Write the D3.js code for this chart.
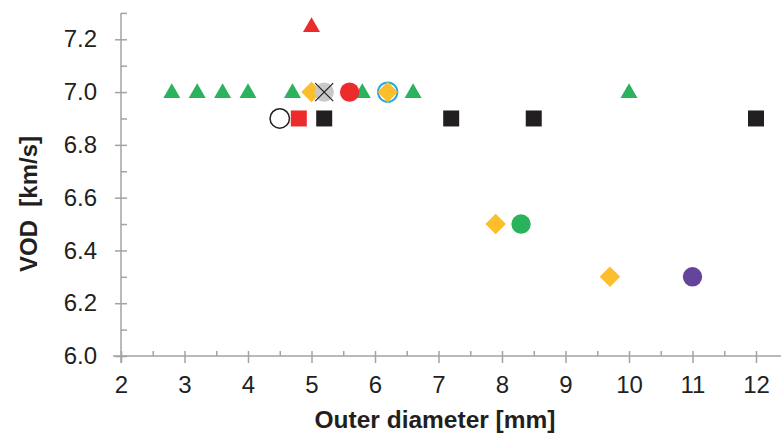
<html>
<head>
<script src="https://d3js.org/d3.v7.min.js"></script>
<style>
  body { margin: 0; background: #fff; font-family: "Liberation Sans", Arial, Helvetica, sans-serif; }
  .axis text { font-size: 24px; fill: #231f20; font-family: "Liberation Sans", Arial, sans-serif; }
  .axis line, .axis path { stroke: #a3a3a3; stroke-width: 1.5px; }
  .title { font-weight: bold; fill: #231f20; }
</style>
</head>
<body>
<svg id="chart" width="781" height="436"></svg>
<script>
// tick labels
const xTicks = [2, 3, 4, 5, 6, 7, 8, 9, 10, 11, 12];
const xMinor = [2.5, 3.5, 4.5, 5.5, 6.5, 7.5, 8.5, 9.5, 10.5, 11.5];
const yTicks = [6.0, 6.2, 6.4, 6.6, 6.8, 7.0, 7.2];
const yMinor = [6.1, 6.3, 6.5, 6.7, 6.9, 7.1, 7.3];

// series: [x, y]
const greenTriangles = [[2.8, 7.0], [3.2, 7.0], [3.6, 7.0], [4.0, 7.0], [4.7, 7.0], [5.8, 7.0], [6.6, 7.0], [10.0, 7.0]];
const redTriangles = [[5.0, 7.25]];
const orangeDiamonds = [[5.0, 7.0], [7.9, 6.5], [9.7, 6.3]];
const greyCrossCircles = [[5.2, 7.0]];
const redCircles = [[5.6, 7.0]];
const blueRingDiamonds = [[6.2, 7.0]];
const openCircles = [[4.5, 6.9]];
const redSquares = [[4.8, 6.9]];
const blackSquares = [[5.2, 6.9], [7.2, 6.9], [8.5, 6.9], [12.0, 6.9]];
const greenCircles = [[8.3, 6.5]];
const purpleCircles = [[11.0, 6.3]];

const svg = d3.select("#chart");
const x = d3.scaleLinear().domain([2, 12]).range([121, 756]);
const y = d3.scaleLinear().domain([6, 7.3]).range([356, 12.9]);
const x0 = x(2), y0 = y(6);

// axis lines
svg.append("line").attr("x1", 113).attr("x2", 781).attr("y1", y0).attr("y2", y0)
   .attr("stroke", "#a3a3a3").attr("stroke-width", 1.5);
svg.append("line").attr("x1", x0).attr("x2", x0).attr("y1", y(7.3)).attr("y2", y0 + 7)
   .attr("stroke", "#a3a3a3").attr("stroke-width", 1.5);

// x axis
const gx = svg.append("g").attr("class", "axis").attr("transform", `translate(0,${y0})`)
  .call(d3.axisBottom(x).tickValues(xTicks).tickFormat(d3.format("d")).tickSize(7).tickPadding(13));
gx.select(".domain").remove();
gx.selectAll(".tick line").attr("y1", -5);

const gxm = svg.append("g").attr("class", "axis").attr("transform", `translate(0,${y0})`)
  .call(d3.axisTop(x).tickValues(xMinor).tickFormat("").tickSize(5));
gxm.select(".domain").remove();

// y axis
const gy = svg.append("g").attr("class", "axis").attr("transform", `translate(${x0},0)`)
  .call(d3.axisLeft(y).tickValues(yTicks).tickFormat(d3.format(".1f")).tickSize(6).tickPadding(18));
gy.select(".domain").remove();
gy.selectAll(".tick line").attr("x1", 6);

const gym = svg.append("g").attr("class", "axis").attr("transform", `translate(${x0},0)`)
  .call(d3.axisRight(y).tickValues(yMinor).tickFormat("").tickSize(6));
gym.select(".domain").remove();

// titles
svg.append("text").attr("class", "title")
   .attr("x", 435).attr("y", 428).attr("text-anchor", "middle")
   .style("font-size", "24.5px")
   .text("Outer diameter [mm]");
svg.append("text").attr("class", "title")
   .attr("transform", "translate(37,204) rotate(-90)")
   .attr("text-anchor", "middle")
   .style("font-size", "24px")
   .style("white-space", "pre")
   .attr("xml:space", "preserve")
   .text("VOD  [km/s]");

// markers
const plot = svg.append("g");
const tri = d3.symbol().type(d3.symbolTriangle).size(125);
const sq = d3.symbol().type(d3.symbolSquare).size(256);
const dia = d3.symbol().type(d3.symbolSquare).size(210);

function triangles(data, color) {
  plot.selectAll(null).data(data).join("path")
    .attr("d", tri)
    .attr("transform", d => `translate(${x(d[0])},${y(d[1]) + 1})`)
    .attr("fill", color);
}
function squares(data, color) {
  plot.selectAll(null).data(data).join("path")
    .attr("d", sq)
    .attr("transform", d => `translate(${x(d[0])},${y(d[1])})`)
    .attr("fill", color);
}
function diamonds(data, color) {
  plot.selectAll(null).data(data).join("path")
    .attr("d", dia)
    .attr("transform", d => `translate(${x(d[0])},${y(d[1])}) rotate(45)`)
    .attr("fill", color);
}
function circles(data, fill, stroke, sw) {
  plot.selectAll(null).data(data).join("circle")
    .attr("cx", d => x(d[0])).attr("cy", d => y(d[1]))
    .attr("r", 9.7)
    .attr("fill", fill)
    .attr("stroke", stroke || "none")
    .attr("stroke-width", sw || 0);
}

triangles(greenTriangles, "#2bb25c");
triangles(redTriangles, "#ed2a2c");
diamonds(orangeDiamonds, "#fdbe2b");
circles(greyCrossCircles, "#c8c8c8");
plot.selectAll(null).data(greyCrossCircles).join("path")
  .attr("d", d => {
    const cx = x(d[0]), cy = y(d[1]), r = 9;
    return `M${cx - r},${cy - r}L${cx + r},${cy + r}M${cx - r},${cy + r}L${cx + r},${cy - r}`;
  })
  .attr("stroke", "#231f20").attr("stroke-width", 1.2);
circles(redCircles, "#ed2a2c");
circles(blueRingDiamonds, "#ffffff", "#2aa9e0", 2);
diamonds(blueRingDiamonds, "#fdbe2b");
circles(openCircles, "#ffffff", "#231f20", 1.5);
squares(redSquares, "#ed2a2c");
squares(blackSquares, "#231f20");
circles(greenCircles, "#2bb25c");
circles(purpleCircles, "#65459b");
</script>
</body>
</html>
